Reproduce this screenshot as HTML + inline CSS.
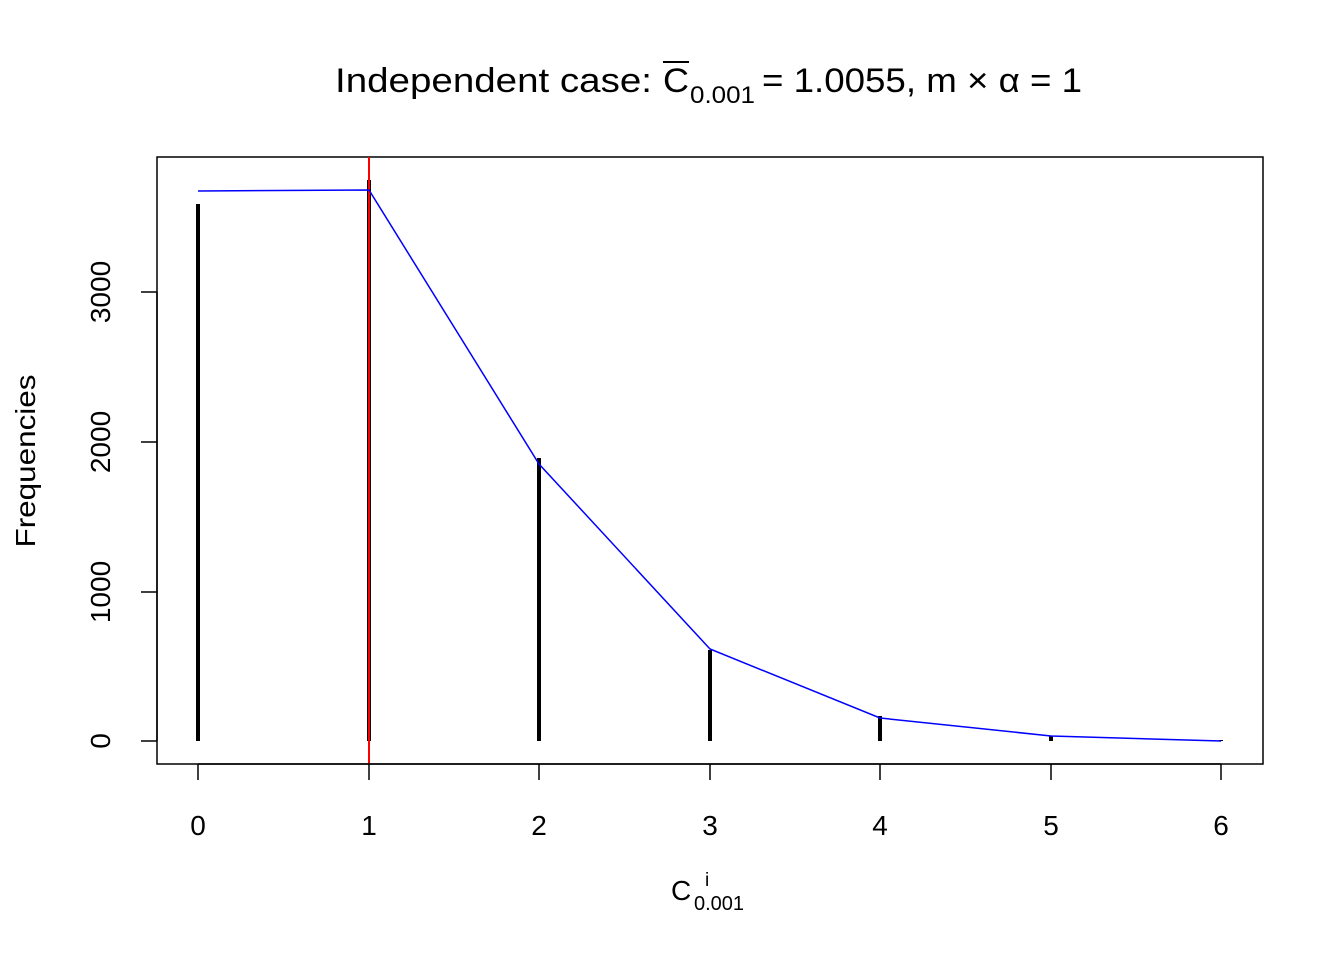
<!DOCTYPE html>
<html><head><meta charset="utf-8"><style>body{margin:0;background:#fff}</style></head>
<body>
<svg width="1344" height="960" xmlns="http://www.w3.org/2000/svg" font-family="Liberation Sans, Arial, sans-serif">
<rect width="1344" height="960" fill="#fff"/>
<text x="335" y="92" font-size="34" textLength="317" lengthAdjust="spacingAndGlyphs">Independent case: </text>
<text x="663" y="92" font-size="34" textLength="26" lengthAdjust="spacingAndGlyphs">C</text>
<text x="690" y="103" font-size="24" textLength="65" lengthAdjust="spacingAndGlyphs">0.001</text>
<text x="762" y="92" font-size="34" textLength="320" lengthAdjust="spacingAndGlyphs">= 1.0055, m × α = 1</text>
<line x1="663" y1="62" x2="689" y2="62" stroke="#000" stroke-width="2"/>
<rect x="157" y="157" width="1106" height="607" fill="none" stroke="#000" stroke-width="1.5"/>
<g stroke="#000" stroke-width="4">
<line x1="198" y1="741" x2="198" y2="204"/>
<line x1="369" y1="741" x2="369" y2="180"/>
<line x1="539" y1="741" x2="539" y2="458"/>
<line x1="710" y1="741" x2="710" y2="650"/>
<line x1="880" y1="741" x2="880" y2="716"/>
<line x1="1051" y1="741" x2="1051" y2="736"/>
<line x1="1221" y1="741" x2="1221" y2="740"/>
</g>
<line x1="369" y1="157" x2="369" y2="764" stroke="#f00" stroke-width="2"/>
<polyline points="198,191 369,190 539,464 710,649 880,718 1051,736 1221,741" fill="none" stroke="#00f" stroke-width="1.5"/>
<g stroke="#000" stroke-width="1.5">
<line x1="198" y1="764" x2="1221" y2="764"/>
<line x1="198" y1="764" x2="198" y2="780"/><line x1="369" y1="764" x2="369" y2="780"/><line x1="539" y1="764" x2="539" y2="780"/><line x1="710" y1="764" x2="710" y2="780"/><line x1="880" y1="764" x2="880" y2="780"/><line x1="1051" y1="764" x2="1051" y2="780"/><line x1="1221" y1="764" x2="1221" y2="780"/>
<line x1="157" y1="292" x2="157" y2="741"/>
<line x1="141" y1="741" x2="157" y2="741"/><line x1="141" y1="592" x2="157" y2="592"/><line x1="141" y1="442" x2="157" y2="442"/><line x1="141" y1="292" x2="157" y2="292"/>
</g>
<g font-size="28" text-anchor="middle">
<text x="198" y="835">0</text><text x="369" y="835">1</text><text x="539" y="835">2</text><text x="710" y="835">3</text><text x="880" y="835">4</text><text x="1051" y="835">5</text><text x="1221" y="835">6</text>
<text transform="translate(110,741) rotate(-90)">0</text>
<text transform="translate(110,592) rotate(-90)">1000</text>
<text transform="translate(110,442) rotate(-90)">2000</text>
<text transform="translate(110,292) rotate(-90)">3000</text>
<text transform="translate(35,461) rotate(-90)" textLength="173" lengthAdjust="spacingAndGlyphs">Frequencies</text>
</g>
<text x="671" y="900" font-size="28">C</text>
<text x="705" y="886" font-size="19">i</text>
<text x="694" y="910" font-size="20">0.001</text>
</svg>
</body></html>
